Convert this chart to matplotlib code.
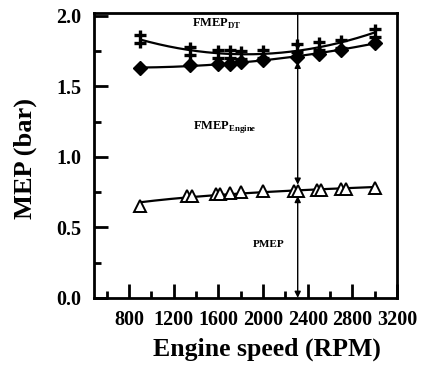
import numpy as np
import matplotlib.pyplot as plt
from matplotlib.path import Path

plt.rcParams['font.family'] = 'Liberation Serif'
plt.rcParams['font.weight'] = 'bold'
plt.rcParams['mathtext.fontset'] = 'custom'
plt.rcParams['mathtext.rm'] = 'Liberation Serif:bold'
plt.rcParams['mathtext.bf'] = 'Liberation Serif:bold'

# total (FMEP_DT + engine)
rpm_tot = [900, 1350, 1600, 1700, 1800, 2000, 2300, 2500, 2700, 3000]
mep_tot = [1.84, 1.75, 1.73, 1.73, 1.72, 1.73, 1.77, 1.79, 1.80, 1.88]

# engine friction + pumping
rpm_eng = [900, 1350, 1600, 1700, 1800, 2000, 2300, 2500, 2700, 3000]
mep_eng = [1.63, 1.65, 1.66, 1.66, 1.67, 1.69, 1.71, 1.73, 1.76, 1.81]

# pumping only
rpm_pmep = [900, 1320, 1360, 1580, 1610, 1700, 1800, 2000, 2280, 2310, 2480, 2520, 2700, 2740, 3000]
pmep = [0.65, 0.72, 0.72, 0.74, 0.74, 0.745, 0.75, 0.76, 0.76, 0.76, 0.765, 0.765, 0.77, 0.77, 0.78]

x_arrow = 2310

# double cross marker
dcross = Path([(0, -1), (0, 1), (-0.7, 0.4), (0.7, 0.4), (-0.7, -0.4), (0.7, -0.4)],
              [Path.MOVETO, Path.LINETO, Path.MOVETO, Path.LINETO, Path.MOVETO, Path.LINETO])

fig = plt.figure(figsize=(4.22, 3.65), dpi=100)
ax = fig.add_axes([0.223, 0.184, 0.718, 0.78])

xs = np.linspace(900, 3000, 200)
p_tot = np.polyfit(rpm_tot, mep_tot, 2)
p_eng = np.polyfit(rpm_eng, mep_eng, 2)
p_pm = np.polyfit(np.log(rpm_pmep), pmep, 1)

ax.plot(xs, np.polyval(p_tot, xs), color='black', lw=1.6)
ax.plot(xs, np.polyval(p_eng, xs), color='black', lw=1.6)
ax.plot(xs, np.polyval(p_pm, np.log(xs)), color='black', lw=1.6)

ax.plot(rpm_tot, mep_tot, ls='none', marker=dcross, ms=13, mec='black', mew=2.4)
ax.plot(rpm_eng, mep_eng, ls='none', marker='D', ms=7, mfc='black', mec='black')
ax.plot(rpm_pmep, pmep, ls='none', marker='^', ms=9, mfc='white', mec='black', mew=1.4)

y_tot = np.polyval(p_tot, x_arrow)
y_eng = np.polyval(p_eng, x_arrow)
y_pm = np.polyval(p_pm, np.log(x_arrow))
ap = dict(arrowstyle='-|>', color='black', lw=1.0, mutation_scale=9, shrinkA=0, shrinkB=0)
ax.annotate('', xy=(x_arrow, y_tot), xytext=(x_arrow, 2.02), arrowprops=ap)
ap2 = dict(ap, arrowstyle='<|-|>')
ax.annotate('', xy=(x_arrow, y_eng - 0.04), xytext=(x_arrow, y_pm + 0.04), arrowprops=ap2)
ax.annotate('', xy=(x_arrow, y_pm - 0.04), xytext=(x_arrow, 0.0), arrowprops=ap2)

ax.text(1360, 1.94, r'FMEP$_{\mathrm{DT}}$', fontsize=9, va='center')
ax.text(1370, 1.21, r'FMEP$_{\mathrm{Engine}}$', fontsize=9, va='center')
ax.text(1910, 0.38, 'PMEP', fontsize=8, va='center')

ax.set_xlim(487, 3200)
ax.set_ylim(0, 2.02)
ax.set_xticks([800, 1200, 1600, 2000, 2400, 2800, 3200])
ax.set_xticks(np.arange(600, 3200, 400), minor=True)
ax.set_yticks([0.0, 0.5, 1.0, 1.5, 2.0])
ax.set_yticklabels(['0.0', '0.5', '1.0', '1.5', '2.0'])
ax.set_yticks([0.25, 0.75, 1.25, 1.75], minor=True)
ax.tick_params(which='both', direction='in', width=2, labelsize=14.5)
ax.tick_params(which='major', length=10)
ax.tick_params(which='minor', length=5)
ax.tick_params(axis='x', pad=9)
ax.tick_params(axis='y', pad=9)
for s in ax.spines.values():
    s.set_linewidth(2)

ax.set_xlabel('Engine speed (RPM)', fontsize=18.5, fontweight='bold')
ax.set_ylabel('MEP (bar)', fontsize=19, fontweight='bold')
ax.xaxis.set_label_coords(0.571, -0.14)
ax.yaxis.set_label_coords(-0.19, 0.49)

plt.savefig('out.png', dpi=100)
